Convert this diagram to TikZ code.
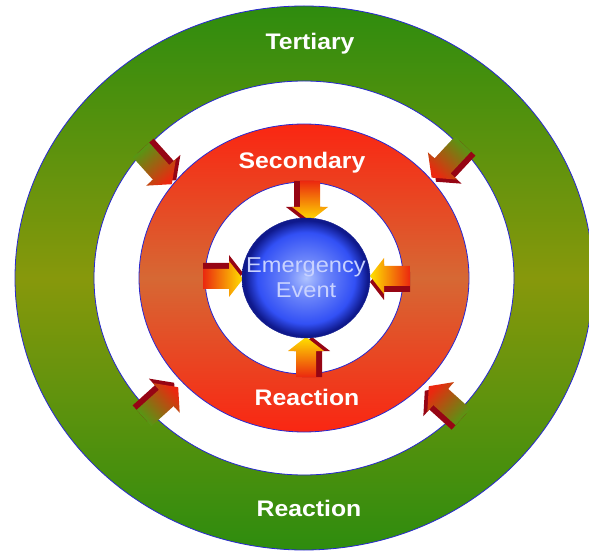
\documentclass[tikz,border=0pt]{standalone}
\usepackage{fontspec}
\newfontfamily\ringfont[FakeStretch=1.1]{Liberation Sans}
\usepackage{tikz}
\usetikzlibrary{shapes.geometric}
\definecolor{ringgreen}{RGB}{46,140,14}
\definecolor{ringolive}{RGB}{135,152,12}
\definecolor{ringred}{RGB}{250,38,18}
\definecolor{ringorange}{RGB}{214,104,52}
\definecolor{edgeblue}{RGB}{40,40,210}
\definecolor{spherelight}{RGB}{175,195,255}
\definecolor{sphereblue}{RGB}{50,80,245}
\definecolor{spheredark}{RGB}{15,25,140}
\definecolor{arrowred}{RGB}{235,40,15}
\definecolor{arrowyellow}{RGB}{255,225,0}
\definecolor{arrowgreen}{RGB}{80,155,20}
\definecolor{arrowmaroon}{RGB}{150,5,20}
\definecolor{eventtext}{RGB}{200,210,255}
\pgfdeclareradialshading{sphereshade}{\pgfpoint{0bp}{0bp}}{color(0bp)=(spherelight); color(7bp)=(spherelight!50!sphereblue); color(19bp)=(sphereblue); color(24bp)=(spheredark); color(50bp)=(spheredark)}
\newcommand{\innerarrow}{(0,-10) -- (26,-10) -- (26,-18) -- (40,0) -- (26,18) -- (26,10) -- (0,10) -- cycle}
\newcommand{\outerarrow}{(0,-11) -- (30,-11) -- (30,-20) -- (46,0) -- (30,20) -- (30,11) -- (0,11) -- cycle}

\begin{document}
\begin{tikzpicture}[x=1pt,y=-1pt,
  ringlabel/.style={font=\ringfont\bfseries\fontsize{22.5}{26}\selectfont, text=white, anchor=base, inner sep=0pt},
  ringedge/.style={draw=edgeblue, line width=0.8pt, even odd rule}]
  \useasboundingbox (0,0) rectangle (589,553);
  \coordinate (c) at (304,278);
  % tertiary and secondary rings
  \path[ringedge, top color=ringgreen, bottom color=ringgreen, middle color=ringolive]
    (c) ellipse [x radius=289, y radius=272] (c) ellipse [x radius=210, y radius=197];
  \path[ringedge, top color=ringred, bottom color=ringred, middle color=ringorange]
    (c) ellipse [x radius=165, y radius=154] (c) ellipse [x radius=99, y radius=96];
  % arrows from the secondary ring to the event
  \foreach \x/\y/\ang/\off [evaluate=\ang as \sa using \ang+90] in {310/181/-90/6, 306/377/90/6, 203/279/0/-6, 410/276/180/-6}{
    \begin{scope}[shift={(\x,\y)}, rotate=\ang]
      \fill[arrowmaroon, shift={(0,\off)}] \innerarrow;
      \shade[top color=arrowred, bottom color=arrowyellow, shading angle=\sa] \innerarrow;
    \end{scope}
  }
  % arrows from the tertiary ring to the secondary ring
  \foreach \x/\y/\ang [evaluate=\ang as \sa using \ang+90] in {141/150/-48, 463/144/-133, 144/418/42, 463/417/138}{
    \begin{scope}[shift={(\x,\y)}, rotate=\ang]
      \fill[arrowmaroon, shift={(0,-6)}] \outerarrow;
      \shade[top color=arrowgreen, bottom color=arrowred, shading angle=\sa] \outerarrow;
    \end{scope}
  }
  \node[ellipse, minimum width=128pt, minimum height=120pt, inner sep=0pt, shade, shading=sphereshade,
        draw=spheredark] (event) at (306,278) {};
  \node[text=eventtext, align=center, inner sep=0pt,
        font=\ringfont\fontsize{21.5}{25}\selectfont] (event text) at (event.center) {Emergency\\Event};
  \node[ringlabel] (tertiary) at (310,50) {Tertiary};
  \node[ringlabel] (secondary) at (302,169) {Secondary};
  \node[ringlabel] (inner reaction) at (307,405) {Reaction};
  \node[ringlabel] (outer reaction) at (309,516) {Reaction};
\end{tikzpicture}
\end{document}
